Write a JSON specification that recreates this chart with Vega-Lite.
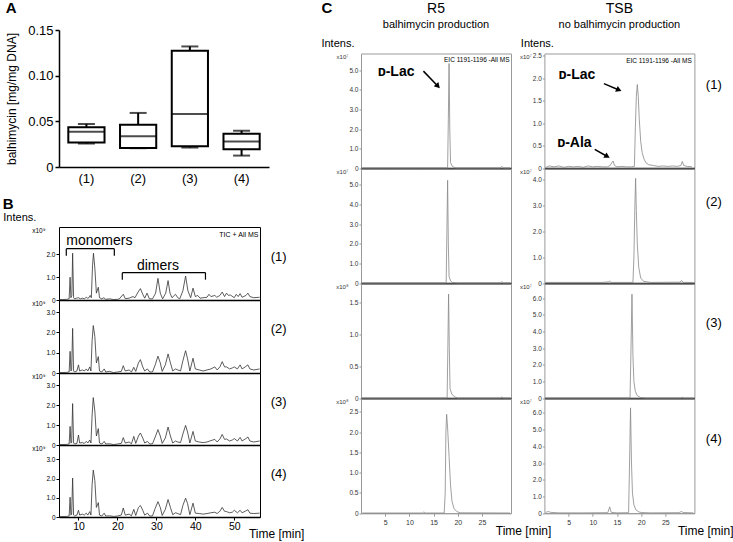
{
"$schema": "https://vega.github.io/schema/vega-lite/v6.json",
"padding": {"left": 2, "top": 1, "right": 2, "bottom": 0},
"config": {
 "font": "Liberation Sans",
 "axis": {"grid": false, "domainColor": "#000", "tickColor": "#000", "labelColor": "#000", "titleColor": "#000", "titleFontWeight": "normal", "labelFont": "Liberation Sans", "titleFont": "Liberation Sans"},
 "title": {"font": "Liberation Sans", "color": "#000", "subtitleFont": "Liberation Sans", "subtitleColor": "#000"},
 "text": {"font": "Liberation Sans", "color": "#000"},
 "view": {"stroke": null}
},
"datasets": {
 "box": [
  {"g":"(1)","lo":0.0257,"q1":0.0268,"med":0.0386,"q3":0.0434,"hi":0.0471},
  {"g":"(2)","lo":0.0206,"q1":0.0208,"med":0.0338,"q3":0.0463,"hi":0.0592},
  {"g":"(3)","lo":0.0213,"q1":0.0228,"med":0.0581,"q3":0.1273,"hi":0.132},
  {"g":"(4)","lo":0.0125,"q1":0.0195,"med":0.0279,"q3":0.0364,"hi":0.0397}
 ],
 "tic": [
  {"p":1,"t":5.2,"v":0.02},{"p":1,"t":6,"v":0.02},{"p":1,"t":7,"v":0.03},{"p":1,"t":7.6,"v":0.05},{"p":1,"t":7.85,"v":1.0},{"p":1,"t":8.05,"v":0.1},{"p":1,"t":8.3,"v":0.2},{"p":1,"t":8.5,"v":2.05},{"p":1,"t":8.75,"v":0.1},{"p":1,"t":9,"v":0.05},{"p":1,"t":9.5,"v":0.08},{"p":1,"t":10,"v":0.1},{"p":1,"t":10.5,"v":0.05},{"p":1,"t":11,"v":0.08},{"p":1,"t":11.5,"v":0.05},{"p":1,"t":12,"v":0.12},{"p":1,"t":12.3,"v":0.08},{"p":1,"t":12.7,"v":0.1},{"p":1,"t":13,"v":0.2},{"p":1,"t":13.3,"v":0.1},{"p":1,"t":13.6,"v":1.5},{"p":1,"t":13.85,"v":2.05},{"p":1,"t":14.2,"v":1.4},{"p":1,"t":14.6,"v":0.3},{"p":1,"t":15.1,"v":0.56},{"p":1,"t":15.4,"v":0.1},{"p":1,"t":16,"v":0.05},{"p":1,"t":16.5,"v":0.1},{"p":1,"t":17,"v":0.03},{"p":1,"t":18,"v":0.05},{"p":1,"t":19,"v":0.02},{"p":1,"t":20,"v":0.03},{"p":1,"t":20.5,"v":0.05},{"p":1,"t":21.5,"v":0.25},{"p":1,"t":22,"v":0.06},{"p":1,"t":23,"v":0.08},{"p":1,"t":24,"v":0.15},{"p":1,"t":24.5,"v":0.1},{"p":1,"t":25.3,"v":0.35},{"p":1,"t":25.9,"v":0.5},{"p":1,"t":26.5,"v":0.25},{"p":1,"t":27,"v":0.08},{"p":1,"t":27.6,"v":0.3},{"p":1,"t":28.2,"v":0.05},{"p":1,"t":29,"v":0.05},{"p":1,"t":29.8,"v":0.3},{"p":1,"t":30.4,"v":0.95},{"p":1,"t":31,"v":0.3},{"p":1,"t":31.6,"v":0.05},{"p":1,"t":32.4,"v":0.3},{"p":1,"t":33,"v":0.85},{"p":1,"t":33.5,"v":0.3},{"p":1,"t":34,"v":0.1},{"p":1,"t":34.9,"v":0.25},{"p":1,"t":35.5,"v":0.1},{"p":1,"t":36,"v":0.05},{"p":1,"t":36.8,"v":0.4},{"p":1,"t":37.5,"v":1.05},{"p":1,"t":38.1,"v":0.4},{"p":1,"t":38.8,"v":0.1},{"p":1,"t":39.4,"v":0.52},{"p":1,"t":40,"v":0.15},{"p":1,"t":40.6,"v":0.2},{"p":1,"t":41.2,"v":0.08},{"p":1,"t":42,"v":0.1},{"p":1,"t":43,"v":0.12},{"p":1,"t":43.5,"v":0.25},{"p":1,"t":44,"v":0.15},{"p":1,"t":45,"v":0.2},{"p":1,"t":45.5,"v":0.12},{"p":1,"t":46.3,"v":0.2},{"p":1,"t":46.9,"v":0.35},{"p":1,"t":47.5,"v":0.15},{"p":1,"t":48,"v":0.3},{"p":1,"t":48.5,"v":0.2},{"p":1,"t":49,"v":0.22},{"p":1,"t":50,"v":0.1},{"p":1,"t":50.5,"v":0.25},{"p":1,"t":51,"v":0.15},{"p":1,"t":51.5,"v":0.28},{"p":1,"t":52,"v":0.12},{"p":1,"t":53,"v":0.2},{"p":1,"t":53.5,"v":0.3},{"p":1,"t":54,"v":0.15},{"p":1,"t":55,"v":0.1},{"p":1,"t":56.5,"v":0.12},
  {"p":2,"t":5.2,"v":0.02},{"p":2,"t":7,"v":0.03},{"p":2,"t":7.6,"v":0.05},{"p":2,"t":7.85,"v":1.07},{"p":2,"t":8.05,"v":0.1},{"p":2,"t":8.25,"v":0.15},{"p":2,"t":8.5,"v":2.2},{"p":2,"t":8.75,"v":0.1},{"p":2,"t":9,"v":0.05},{"p":2,"t":9.6,"v":0.1},{"p":2,"t":10,"v":0.4},{"p":2,"t":10.3,"v":0.1},{"p":2,"t":11,"v":0.15},{"p":2,"t":11.5,"v":0.1},{"p":2,"t":12,"v":0.2},{"p":2,"t":12.4,"v":0.1},{"p":2,"t":12.9,"v":0.3},{"p":2,"t":13.2,"v":0.1},{"p":2,"t":13.5,"v":1.6},{"p":2,"t":13.8,"v":2.34},{"p":2,"t":14.2,"v":1.8},{"p":2,"t":14.6,"v":0.5},{"p":2,"t":15.1,"v":0.81},{"p":2,"t":15.4,"v":0.1},{"p":2,"t":16,"v":0.05},{"p":2,"t":16.6,"v":0.2},{"p":2,"t":17,"v":0.05},{"p":2,"t":18,"v":0.08},{"p":2,"t":19,"v":0.02},{"p":2,"t":20,"v":0.05},{"p":2,"t":21,"v":0.08},{"p":2,"t":21.5,"v":0.36},{"p":2,"t":22,"v":0.1},{"p":2,"t":23,"v":0.15},{"p":2,"t":23.6,"v":0.05},{"p":2,"t":24.2,"v":0.28},{"p":2,"t":24.7,"v":0.08},{"p":2,"t":25.4,"v":0.5},{"p":2,"t":25.9,"v":0.66},{"p":2,"t":26.5,"v":0.3},{"p":2,"t":27,"v":0.1},{"p":2,"t":27.7,"v":0.2},{"p":2,"t":28.3,"v":0.05},{"p":2,"t":29,"v":0.05},{"p":2,"t":29.7,"v":0.4},{"p":2,"t":30.4,"v":0.83},{"p":2,"t":31,"v":0.5},{"p":2,"t":31.5,"v":0.08},{"p":2,"t":32.3,"v":0.4},{"p":2,"t":33,"v":0.94},{"p":2,"t":33.6,"v":0.5},{"p":2,"t":34.2,"v":0.1},{"p":2,"t":34.9,"v":0.2},{"p":2,"t":35.5,"v":0.15},{"p":2,"t":36.2,"v":0.1},{"p":2,"t":36.8,"v":0.6},{"p":2,"t":37.5,"v":1.1},{"p":2,"t":38,"v":0.7},{"p":2,"t":38.6,"v":0.1},{"p":2,"t":39.4,"v":0.73},{"p":2,"t":40,"v":0.2},{"p":2,"t":41,"v":0.15},{"p":2,"t":42,"v":0.1},{"p":2,"t":43,"v":0.15},{"p":2,"t":44,"v":0.2},{"p":2,"t":45,"v":0.3},{"p":2,"t":45.6,"v":0.15},{"p":2,"t":46.3,"v":0.3},{"p":2,"t":46.9,"v":0.56},{"p":2,"t":47.5,"v":0.3},{"p":2,"t":48,"v":0.3},{"p":2,"t":48.8,"v":0.2},{"p":2,"t":49.5,"v":0.25},{"p":2,"t":50,"v":0.3},{"p":2,"t":50.8,"v":0.2},{"p":2,"t":51.5,"v":0.4},{"p":2,"t":52,"v":0.2},{"p":2,"t":52.8,"v":0.3},{"p":2,"t":53.5,"v":0.4},{"p":2,"t":54,"v":0.2},{"p":2,"t":55,"v":0.15},{"p":2,"t":56.5,"v":0.2},
  {"p":3,"t":5.2,"v":0.02},{"p":3,"t":7,"v":0.03},{"p":3,"t":7.6,"v":0.05},{"p":3,"t":7.85,"v":0.93},{"p":3,"t":8.05,"v":0.1},{"p":3,"t":8.25,"v":0.12},{"p":3,"t":8.5,"v":2.07},{"p":3,"t":8.75,"v":0.1},{"p":3,"t":9,"v":0.05},{"p":3,"t":9.6,"v":0.08},{"p":3,"t":10,"v":0.5},{"p":3,"t":10.3,"v":0.1},{"p":3,"t":11,"v":0.12},{"p":3,"t":11.5,"v":0.08},{"p":3,"t":12,"v":0.18},{"p":3,"t":12.4,"v":0.1},{"p":3,"t":12.9,"v":0.25},{"p":3,"t":13.2,"v":0.1},{"p":3,"t":13.5,"v":1.5},{"p":3,"t":13.8,"v":2.37},{"p":3,"t":14.2,"v":1.7},{"p":3,"t":14.6,"v":0.45},{"p":3,"t":15.1,"v":0.82},{"p":3,"t":15.4,"v":0.1},{"p":3,"t":16,"v":0.05},{"p":3,"t":16.6,"v":0.18},{"p":3,"t":17,"v":0.05},{"p":3,"t":18,"v":0.06},{"p":3,"t":19,"v":0.02},{"p":3,"t":20,"v":0.05},{"p":3,"t":21,"v":0.08},{"p":3,"t":21.5,"v":0.37},{"p":3,"t":22,"v":0.1},{"p":3,"t":23,"v":0.15},{"p":3,"t":23.6,"v":0.06},{"p":3,"t":24.2,"v":0.43},{"p":3,"t":24.7,"v":0.08},{"p":3,"t":25.4,"v":0.45},{"p":3,"t":25.9,"v":0.6},{"p":3,"t":26.5,"v":0.35},{"p":3,"t":27,"v":0.1},{"p":3,"t":27.7,"v":0.18},{"p":3,"t":28.3,"v":0.05},{"p":3,"t":29,"v":0.06},{"p":3,"t":29.7,"v":0.4},{"p":3,"t":30.4,"v":0.77},{"p":3,"t":31,"v":0.45},{"p":3,"t":31.5,"v":0.08},{"p":3,"t":32.3,"v":0.35},{"p":3,"t":33,"v":0.9},{"p":3,"t":33.6,"v":0.45},{"p":3,"t":34.2,"v":0.1},{"p":3,"t":34.9,"v":0.2},{"p":3,"t":35.5,"v":0.15},{"p":3,"t":36.2,"v":0.12},{"p":3,"t":36.8,"v":0.55},{"p":3,"t":37.5,"v":0.98},{"p":3,"t":38,"v":0.65},{"p":3,"t":38.6,"v":0.1},{"p":3,"t":39.4,"v":0.68},{"p":3,"t":40,"v":0.2},{"p":3,"t":41,"v":0.15},{"p":3,"t":42,"v":0.12},{"p":3,"t":43,"v":0.15},{"p":3,"t":44,"v":0.22},{"p":3,"t":45,"v":0.28},{"p":3,"t":45.6,"v":0.15},{"p":3,"t":46.3,"v":0.3},{"p":3,"t":46.9,"v":0.53},{"p":3,"t":47.5,"v":0.28},{"p":3,"t":48,"v":0.3},{"p":3,"t":48.8,"v":0.2},{"p":3,"t":49.5,"v":0.25},{"p":3,"t":50,"v":0.32},{"p":3,"t":50.8,"v":0.2},{"p":3,"t":51.5,"v":0.38},{"p":3,"t":52,"v":0.2},{"p":3,"t":52.8,"v":0.3},{"p":3,"t":53.5,"v":0.4},{"p":3,"t":54,"v":0.2},{"p":3,"t":55,"v":0.15},{"p":3,"t":56.5,"v":0.2},
  {"p":4,"t":5.2,"v":0.02},{"p":4,"t":7,"v":0.03},{"p":4,"t":7.6,"v":0.05},{"p":4,"t":7.85,"v":1.03},{"p":4,"t":8.05,"v":0.1},{"p":4,"t":8.25,"v":0.15},{"p":4,"t":8.5,"v":2.03},{"p":4,"t":8.75,"v":0.1},{"p":4,"t":9,"v":0.05},{"p":4,"t":9.6,"v":0.1},{"p":4,"t":10,"v":0.35},{"p":4,"t":10.3,"v":0.1},{"p":4,"t":11,"v":0.15},{"p":4,"t":11.5,"v":0.1},{"p":4,"t":12,"v":0.2},{"p":4,"t":12.4,"v":0.1},{"p":4,"t":12.9,"v":0.28},{"p":4,"t":13.2,"v":0.1},{"p":4,"t":13.5,"v":1.7},{"p":4,"t":13.8,"v":2.44},{"p":4,"t":14.2,"v":1.9},{"p":4,"t":14.6,"v":0.5},{"p":4,"t":15.1,"v":0.75},{"p":4,"t":15.4,"v":0.1},{"p":4,"t":16,"v":0.05},{"p":4,"t":16.6,"v":0.2},{"p":4,"t":17,"v":0.05},{"p":4,"t":18,"v":0.06},{"p":4,"t":19,"v":0.03},{"p":4,"t":20,"v":0.05},{"p":4,"t":21,"v":0.1},{"p":4,"t":21.5,"v":0.47},{"p":4,"t":22,"v":0.1},{"p":4,"t":23,"v":0.15},{"p":4,"t":23.6,"v":0.06},{"p":4,"t":24.2,"v":0.4},{"p":4,"t":24.7,"v":0.08},{"p":4,"t":25.4,"v":0.5},{"p":4,"t":25.9,"v":0.6},{"p":4,"t":26.5,"v":0.35},{"p":4,"t":27,"v":0.1},{"p":4,"t":27.7,"v":0.2},{"p":4,"t":28.3,"v":0.05},{"p":4,"t":29,"v":0.06},{"p":4,"t":29.7,"v":0.45},{"p":4,"t":30.4,"v":0.8},{"p":4,"t":31,"v":0.5},{"p":4,"t":31.5,"v":0.08},{"p":4,"t":32.3,"v":0.4},{"p":4,"t":33,"v":0.91},{"p":4,"t":33.6,"v":0.5},{"p":4,"t":34.2,"v":0.12},{"p":4,"t":34.9,"v":0.22},{"p":4,"t":35.5,"v":0.18},{"p":4,"t":36.2,"v":0.12},{"p":4,"t":36.8,"v":0.6},{"p":4,"t":37.5,"v":0.98},{"p":4,"t":38,"v":0.7},{"p":4,"t":38.6,"v":0.12},{"p":4,"t":39.4,"v":0.72},{"p":4,"t":40,"v":0.2},{"p":4,"t":41,"v":0.18},{"p":4,"t":42,"v":0.15},{"p":4,"t":43,"v":0.18},{"p":4,"t":44,"v":0.22},{"p":4,"t":45,"v":0.25},{"p":4,"t":45.6,"v":0.18},{"p":4,"t":46.3,"v":0.3},{"p":4,"t":46.9,"v":0.5},{"p":4,"t":47.5,"v":0.3},{"p":4,"t":48,"v":0.28},{"p":4,"t":48.8,"v":0.22},{"p":4,"t":49.5,"v":0.25},{"p":4,"t":50,"v":0.35},{"p":4,"t":50.8,"v":0.22},{"p":4,"t":51.5,"v":0.35},{"p":4,"t":52,"v":0.22},{"p":4,"t":52.8,"v":0.3},{"p":4,"t":53.5,"v":0.38},{"p":4,"t":54,"v":0.2},{"p":4,"t":55,"v":0.18},{"p":4,"t":56.5,"v":0.2}
 ],
 "eic": [
  {"p":"c1","t":0.3,"v":0.02},{"p":"c1","t":6,"v":0.02},{"p":"c1","t":12,"v":0.02},{"p":"c1","t":17.9,"v":0.02},{"p":"c1","t":18.05,"v":2.5},{"p":"c1","t":18.2,"v":5.35},{"p":"c1","t":18.35,"v":2.0},{"p":"c1","t":18.5,"v":0.3},{"p":"c1","t":18.8,"v":0.12},{"p":"c1","t":19.2,"v":0.05},{"p":"c1","t":19.6,"v":0.02},{"p":"c1","t":24,"v":0.02},{"p":"c1","t":28.8,"v":0.02},{"p":"c1","t":29.1,"v":0.1},{"p":"c1","t":29.4,"v":0.02},{"p":"c1","t":30.8,"v":0.02},
  {"p":"c2","t":0.3,"v":0.02},{"p":"c2","t":6,"v":0.02},{"p":"c2","t":12,"v":0.02},{"p":"c2","t":17.6,"v":0.02},{"p":"c2","t":17.75,"v":2.6},{"p":"c2","t":17.9,"v":5.24},{"p":"c2","t":18.05,"v":2.0},{"p":"c2","t":18.2,"v":0.35},{"p":"c2","t":18.5,"v":0.12},{"p":"c2","t":18.9,"v":0.04},{"p":"c2","t":20,"v":0.02},{"p":"c2","t":28.8,"v":0.02},{"p":"c2","t":29.1,"v":0.08},{"p":"c2","t":29.4,"v":0.02},{"p":"c2","t":30.8,"v":0.02},
  {"p":"c3","t":0.3,"v":0.005},{"p":"c3","t":10,"v":0.005},{"p":"c3","t":17.8,"v":0.005},{"p":"c3","t":17.95,"v":0.8},{"p":"c3","t":18.1,"v":1.64},{"p":"c3","t":18.25,"v":0.8},{"p":"c3","t":18.4,"v":0.15},{"p":"c3","t":18.8,"v":0.06},{"p":"c3","t":19.4,"v":0.02},{"p":"c3","t":20,"v":0.005},{"p":"c3","t":28.8,"v":0.005},{"p":"c3","t":29.1,"v":0.02},{"p":"c3","t":29.4,"v":0.005},{"p":"c3","t":30.8,"v":0.005},
  {"p":"c4","t":0.3,"v":0.005},{"p":"c4","t":12.7,"v":0.005},{"p":"c4","t":13,"v":0.03},{"p":"c4","t":13.3,"v":0.005},{"p":"c4","t":17.2,"v":0.005},{"p":"c4","t":17.4,"v":0.5},{"p":"c4","t":17.55,"v":2.0},{"p":"c4","t":17.7,"v":2.44},{"p":"c4","t":17.9,"v":2.1},{"p":"c4","t":18.2,"v":1.4},{"p":"c4","t":18.5,"v":0.7},{"p":"c4","t":18.8,"v":0.3},{"p":"c4","t":19.2,"v":0.12},{"p":"c4","t":19.8,"v":0.04},{"p":"c4","t":20.5,"v":0.01},{"p":"c4","t":30.8,"v":0.005},
  {"p":"t1","t":0.3,"v":0.02},{"p":"t1","t":1,"v":0.05},{"p":"t1","t":2,"v":0.03},{"p":"t1","t":3,"v":0.05},{"p":"t1","t":4,"v":0.02},{"p":"t1","t":5,"v":0.04},{"p":"t1","t":6,"v":0.03},{"p":"t1","t":7,"v":0.04},{"p":"t1","t":8,"v":0.02},{"p":"t1","t":9,"v":0.05},{"p":"t1","t":10,"v":0.03},{"p":"t1","t":11,"v":0.04},{"p":"t1","t":12,"v":0.03},{"p":"t1","t":13,"v":0.03},{"p":"t1","t":13.6,"v":0.06},{"p":"t1","t":13.9,"v":0.12},{"p":"t1","t":14.2,"v":0.16},{"p":"t1","t":14.5,"v":0.06},{"p":"t1","t":15,"v":0.03},{"p":"t1","t":16,"v":0.04},{"p":"t1","t":17,"v":0.03},{"p":"t1","t":18,"v":0.03},{"p":"t1","t":18.6,"v":0.04},{"p":"t1","t":18.8,"v":0.9},{"p":"t1","t":19.0,"v":1.6},{"p":"t1","t":19.2,"v":1.86},{"p":"t1","t":19.4,"v":1.6},{"p":"t1","t":19.6,"v":1.1},{"p":"t1","t":19.9,"v":0.6},{"p":"t1","t":20.2,"v":0.35},{"p":"t1","t":20.6,"v":0.2},{"p":"t1","t":21,"v":0.12},{"p":"t1","t":21.5,"v":0.08},{"p":"t1","t":22.5,"v":0.06},{"p":"t1","t":23.5,"v":0.04},{"p":"t1","t":24.5,"v":0.05},{"p":"t1","t":25.5,"v":0.04},{"p":"t1","t":26.5,"v":0.05},{"p":"t1","t":27.5,"v":0.04},{"p":"t1","t":28.2,"v":0.06},{"p":"t1","t":28.5,"v":0.15},{"p":"t1","t":28.8,"v":0.06},{"p":"t1","t":29.5,"v":0.04},{"p":"t1","t":30.5,"v":0.03},
  {"p":"t2","t":0.3,"v":0.03},{"p":"t2","t":6,"v":0.03},{"p":"t2","t":12,"v":0.03},{"p":"t2","t":13.2,"v":0.05},{"p":"t2","t":13.5,"v":0.08},{"p":"t2","t":13.8,"v":0.03},{"p":"t2","t":18.3,"v":0.03},{"p":"t2","t":18.5,"v":1.0},{"p":"t2","t":18.7,"v":3.0},{"p":"t2","t":18.85,"v":4.03},{"p":"t2","t":19.0,"v":2.8},{"p":"t2","t":19.2,"v":1.5},{"p":"t2","t":19.5,"v":0.6},{"p":"t2","t":19.9,"v":0.2},{"p":"t2","t":20.5,"v":0.07},{"p":"t2","t":22,"v":0.03},{"p":"t2","t":28,"v":0.04},{"p":"t2","t":28.4,"v":0.1},{"p":"t2","t":28.7,"v":0.03},{"p":"t2","t":30.8,"v":0.03},
  {"p":"t3","t":0.3,"v":0.02},{"p":"t3","t":8,"v":0.02},{"p":"t3","t":15,"v":0.02},{"p":"t3","t":17.7,"v":0.02},{"p":"t3","t":17.9,"v":3.0},{"p":"t3","t":18.1,"v":6.24},{"p":"t3","t":18.3,"v":2.5},{"p":"t3","t":18.5,"v":1.0},{"p":"t3","t":18.8,"v":0.4},{"p":"t3","t":19.2,"v":0.15},{"p":"t3","t":19.8,"v":0.05},{"p":"t3","t":21,"v":0.02},{"p":"t3","t":28.2,"v":0.02},{"p":"t3","t":28.5,"v":0.06},{"p":"t3","t":28.8,"v":0.02},{"p":"t3","t":30.8,"v":0.02},
  {"p":"t4","t":0.3,"v":0.05},{"p":"t4","t":0.8,"v":0.1},{"p":"t4","t":1.3,"v":0.05},{"p":"t4","t":3,"v":0.02},{"p":"t4","t":8,"v":0.02},{"p":"t4","t":13.1,"v":0.03},{"p":"t4","t":13.5,"v":0.38},{"p":"t4","t":13.8,"v":0.05},{"p":"t4","t":15,"v":0.02},{"p":"t4","t":17.4,"v":0.03},{"p":"t4","t":17.6,"v":3.0},{"p":"t4","t":17.8,"v":6.3},{"p":"t4","t":18.0,"v":3.0},{"p":"t4","t":18.2,"v":1.2},{"p":"t4","t":18.5,"v":0.5},{"p":"t4","t":18.9,"v":0.2},{"p":"t4","t":19.5,"v":0.08},{"p":"t4","t":20,"v":0.04},{"p":"t4","t":22,"v":0.02},{"p":"t4","t":27.8,"v":0.03},{"p":"t4","t":28.3,"v":0.1},{"p":"t4","t":28.7,"v":0.04},{"p":"t4","t":30.8,"v":0.02}
 ]
},
"hconcat": [
 {
  "vconcat": [
   {
    "title": {"text": "A", "anchor": "start", "frame": "bounds", "fontSize": 15, "fontWeight": "bold", "offset": 8},
    "width": 210, "height": 137,
    "data": {"name": "box"},
    "encoding": {"x": {"field": "g", "type": "nominal", "scale": {"paddingInner": 0, "paddingOuter": 0.03}, "axis": {"title": null, "labelAngle": 0, "labelFontSize": 13, "ticks": false, "domainWidth": 1.5, "labelPadding": 5}}},
    "layer": [
     {"mark": {"type": "rule", "color": "#000", "strokeWidth": 2}, "encoding": {"y": {"field": "lo", "type": "quantitative", "scale": {"domain": [0, 0.15], "nice": false}, "axis": {"values": [0, 0.05, 0.1, 0.15], "labelExpr": "datum.value == 0 ? '0' : format(datum.value, '.2f')", "title": "balhimycin [mg/mg DNA]", "titleFontSize": 12, "labelFontSize": 13, "tickSize": 4, "tickWidth": 1.5, "domainWidth": 1.5, "labelPadding": 2, "titlePadding": 9}}, "y2": {"field": "hi"}}},
     {"mark": {"type": "tick", "color": "#000", "size": 17, "thickness": 2}, "encoding": {"y": {"field": "lo", "type": "quantitative", "scale": {"domain": [0, 0.15], "nice": false}, "axis": {"values": [0, 0.05, 0.1, 0.15], "labelExpr": "datum.value == 0 ? '0' : format(datum.value, '.2f')", "title": "balhimycin [mg/mg DNA]", "titleFontSize": 12, "labelFontSize": 13, "tickSize": 4, "tickWidth": 1.5, "domainWidth": 1.5, "labelPadding": 2, "titlePadding": 9}}}},
     {"mark": {"type": "tick", "color": "#000", "size": 17, "thickness": 2}, "encoding": {"y": {"field": "hi", "type": "quantitative", "scale": {"domain": [0, 0.15], "nice": false}, "axis": {"values": [0, 0.05, 0.1, 0.15], "labelExpr": "datum.value == 0 ? '0' : format(datum.value, '.2f')", "title": "balhimycin [mg/mg DNA]", "titleFontSize": 12, "labelFontSize": 13, "tickSize": 4, "tickWidth": 1.5, "domainWidth": 1.5, "labelPadding": 2, "titlePadding": 9}}}},
     {"mark": {"type": "bar", "fill": "#fff", "stroke": "#000", "strokeWidth": 2, "width": {"band": 0.7}}, "encoding": {"y": {"field": "q1", "type": "quantitative", "scale": {"domain": [0, 0.15], "nice": false}, "axis": {"values": [0, 0.05, 0.1, 0.15], "labelExpr": "datum.value == 0 ? '0' : format(datum.value, '.2f')", "title": "balhimycin [mg/mg DNA]", "titleFontSize": 12, "labelFontSize": 13, "tickSize": 4, "tickWidth": 1.5, "domainWidth": 1.5, "labelPadding": 2, "titlePadding": 9}}, "y2": {"field": "q3"}}},
     {"mark": {"type": "tick", "color": "#000", "size": 37, "thickness": 2}, "encoding": {"y": {"field": "med", "type": "quantitative", "scale": {"domain": [0, 0.15], "nice": false}, "axis": {"values": [0, 0.05, 0.1, 0.15], "labelExpr": "datum.value == 0 ? '0' : format(datum.value, '.2f')", "title": "balhimycin [mg/mg DNA]", "titleFontSize": 12, "labelFontSize": 13, "tickSize": 4, "tickWidth": 1.5, "domainWidth": 1.5, "labelPadding": 2, "titlePadding": 9}}}}
    ]
   },
   {
    "title": {"text": "B", "anchor": "start", "frame": "bounds", "fontSize": 15, "fontWeight": "bold", "offset": -1},
    "vconcat": [
     {
      "width": 201, "height": 73,
      "view": {"stroke": "#000", "strokeWidth": 1},
      "encoding": {
       "x": {"field": "t", "type": "quantitative", "scale": {"domain": [5, 56.6], "nice": false, "zero": false}, "axis": {"labels": false, "ticks": false, "title": null, "domainWidth": 1.5}},
       "y": {"field": "v", "type": "quantitative", "scale": {"domain": [0, 3.2], "nice": false}, "axis": {"values": [0, 1, 2], "labelExpr": "datum.value == 0 ? '0' : format(datum.value, '.1f')", "domain": false, "tickSize": 3, "labelFontSize": 6.5, "labelPadding": 1, "title": "x10⁹", "titleFontSize": 6.5, "titleAngle": 0, "titleAlign": "right", "titleBaseline": "top", "titleAnchor": "end", "titlePadding": 1}}
      },
      "layer": [
       {"data": {"name": "tic"}, "transform": [{"filter": "datum.p == 1"}], "mark": {"type": "line", "color": "#333", "strokeWidth": 0.8}},
       {"data": {"values": [{"t": 6.87, "t2": 19.2, "v": 2.25, "v2": 2.25}, {"t": 6.87, "t2": 6.87, "v": 2.25, "v2": 1.94}, {"t": 19.2, "t2": 19.2, "v": 2.25, "v2": 1.94}, {"t": 21.25, "t2": 42.6, "v": 1.2, "v2": 1.2}, {"t": 21.25, "t2": 21.25, "v": 1.2, "v2": 0.89}, {"t": 42.6, "t2": 42.6, "v": 1.2, "v2": 0.89}]}, "mark": {"type": "rule", "color": "#000", "strokeWidth": 1.2}, "encoding": {"x2": {"field": "t2"}, "y2": {"field": "v2"}}},
       {"data": {"values": [{"t": 15.35, "v": 2.6, "s": "monomers"}, {"t": 30.4, "v": 1.5, "s": "dimers"}]}, "mark": {"type": "text", "fontSize": 14, "baseline": "middle"}, "encoding": {"text": {"field": "s"}}},
       {"data": {"values": [{"t": 56.2, "v": 2.86, "s": "TIC + All MS"}]}, "mark": {"type": "text", "fontSize": 7, "align": "right", "baseline": "middle"}, "encoding": {"text": {"field": "s"}}},
       {"data": {"values": [{"t": -9.3, "v": 3.6, "s": "Intens."}]}, "mark": {"type": "text", "fontSize": 11, "align": "left", "baseline": "middle"}, "encoding": {"text": {"field": "s"}}},
       {"data": {"values": [{"t": 61.4, "v": 1.9, "s": "(1)"}]}, "mark": {"type": "text", "fontSize": 13, "baseline": "middle"}, "encoding": {"text": {"field": "s"}}}
      ]
     },
     {
      "width": 201, "height": 73,
      "view": {"stroke": "#000", "strokeWidth": 1},
      "encoding": {
       "x": {"field": "t", "type": "quantitative", "scale": {"domain": [5, 56.6], "nice": false, "zero": false}, "axis": {"labels": false, "ticks": false, "title": null, "domainWidth": 1.5}},
       "y": {"field": "v", "type": "quantitative", "scale": {"domain": [0, 3.6], "nice": false}, "axis": {"values": [0, 1, 2, 3], "labelExpr": "datum.value == 0 ? '0' : format(datum.value, '.1f')", "domain": false, "tickSize": 3, "labelFontSize": 6.5, "labelPadding": 1, "title": "x10⁹", "titleFontSize": 6.5, "titleAngle": 0, "titleAlign": "right", "titleBaseline": "top", "titleAnchor": "end", "titlePadding": 1}}
      },
      "layer": [
       {"data": {"name": "tic"}, "transform": [{"filter": "datum.p == 2"}], "mark": {"type": "line", "color": "#333", "strokeWidth": 0.8}},
       {"data": {"values": [{"t": 61.4, "v": 2.18, "s": "(2)"}]}, "mark": {"type": "text", "fontSize": 13, "baseline": "middle"}, "encoding": {"text": {"field": "s"}}}
      ]
     },
     {
      "width": 201, "height": 72,
      "view": {"stroke": "#000", "strokeWidth": 1},
      "encoding": {
       "x": {"field": "t", "type": "quantitative", "scale": {"domain": [5, 56.6], "nice": false, "zero": false}, "axis": {"labels": false, "ticks": false, "title": null, "domainWidth": 1.5}},
       "y": {"field": "v", "type": "quantitative", "scale": {"domain": [0, 3.6], "nice": false}, "axis": {"values": [0, 1, 2, 3], "labelExpr": "datum.value == 0 ? '0' : format(datum.value, '.1f')", "domain": false, "tickSize": 3, "labelFontSize": 6.5, "labelPadding": 1, "title": "x10⁹", "titleFontSize": 6.5, "titleAngle": 0, "titleAlign": "right", "titleBaseline": "top", "titleAnchor": "end", "titlePadding": 1}}
      },
      "layer": [
       {"data": {"name": "tic"}, "transform": [{"filter": "datum.p == 3"}], "mark": {"type": "line", "color": "#333", "strokeWidth": 0.8}},
       {"data": {"values": [{"t": 61.4, "v": 2.17, "s": "(3)"}]}, "mark": {"type": "text", "fontSize": 13, "baseline": "middle"}, "encoding": {"text": {"field": "s"}}}
      ]
     },
     {
      "width": 201, "height": 72,
      "view": {"stroke": "#000", "strokeWidth": 1},
      "encoding": {
       "x": {"field": "t", "type": "quantitative", "scale": {"domain": [5, 56.6], "nice": false, "zero": false}, "axis": {"values": [10, 20, 30, 40, 50], "labelFontSize": 10.5, "tickSize": 3, "labelPadding": 1, "title": null, "domainWidth": 1.5}},
       "y": {"field": "v", "type": "quantitative", "scale": {"domain": [0, 3.75], "nice": false}, "axis": {"values": [0, 1, 2, 3], "labelExpr": "datum.value == 0 ? '0' : format(datum.value, '.1f')", "domain": false, "tickSize": 3, "labelFontSize": 6.5, "labelPadding": 1, "title": "x10⁹", "titleFontSize": 6.5, "titleAngle": 0, "titleAlign": "right", "titleBaseline": "top", "titleAnchor": "end", "titlePadding": 1}}
      },
      "layer": [
       {"data": {"name": "tic"}, "transform": [{"filter": "datum.p == 4"}], "mark": {"type": "line", "color": "#333", "strokeWidth": 0.8}},
       {"data": {"values": [{"t": 61.4, "v": 2.26, "s": "(4)"}]}, "mark": {"type": "text", "fontSize": 13, "baseline": "middle"}, "encoding": {"text": {"field": "s"}}},
       {"data": {"values": [{"t": 53.75, "v": -0.88, "s": "Time [min]"}]}, "mark": {"type": "text", "fontSize": 12, "align": "left", "baseline": "middle"}, "encoding": {"text": {"field": "s"}}}
      ]
     }
    ],
    "spacing": 0, "bounds": "flush"
   }
  ],
  "spacing": 12, "bounds": "full"
 },
 {
  "title": {"text": "C", "anchor": "start", "frame": "bounds", "fontSize": 15, "fontWeight": "bold", "offset": -14},
  "bounds": "full",
  "spacing": 1.5,
  "vconcat": [
   {
    "hconcat": [
     {
      "title": {"text": "R5", "subtitle": "balhimycin production", "anchor": "middle", "frame": "group", "fontSize": 14, "fontWeight": "normal", "subtitleFontSize": 11, "subtitlePadding": 3, "offset": 0},
      "width": 150, "height": 20,
      "data": {"values": [{"t": -8.18, "v": 0.315, "s": "Intens."}]},
      "mark": {"type": "text", "fontSize": 11, "align": "left", "baseline": "middle"},
      "encoding": {"x": {"field": "t", "type": "quantitative", "scale": {"domain": [0, 31], "nice": false, "zero": false}, "axis": null}, "y": {"field": "v", "type": "quantitative", "scale": {"domain": [0, 1], "nice": false}, "axis": null}, "text": {"field": "s"}}
     },
     {
      "title": {"text": "TSB", "subtitle": "no balhimycin production", "anchor": "middle", "frame": "group", "fontSize": 14, "fontWeight": "normal", "subtitleFontSize": 11, "subtitlePadding": 3, "offset": 0},
      "width": 150, "height": 20,
      "data": {"values": [{"t": -4.87, "v": 0.315, "s": "Intens."}]},
      "mark": {"type": "text", "fontSize": 11, "align": "left", "baseline": "middle"},
      "encoding": {"x": {"field": "t", "type": "quantitative", "scale": {"domain": [0, 31], "nice": false, "zero": false}, "axis": null}, "y": {"field": "v", "type": "quantitative", "scale": {"domain": [0, 1], "nice": false}, "axis": null}, "text": {"field": "s"}}
     }
    ],
    "spacing": 33.4, "bounds": "flush"
   },
   {
    "columns": 2,
    "spacing": {"row": 0, "column": 33.4},
    "bounds": "flush",
    "concat": [
     {
      "width": 150, "height": 114.7,
      "view": {"stroke": "#999", "strokeWidth": 1},
      "encoding": {
       "x": {"field": "t", "type": "quantitative", "scale": {"domain": [0, 31], "nice": false, "zero": false}, "axis": {"labels": false, "ticks": false, "title": null, "domainWidth": 1.8}},
       "y": {"field": "v", "type": "quantitative", "scale": {"domain": [0, 5.86], "nice": false}, "axis": {"values": [0, 1, 2, 3, 4, 5], "labelExpr": "datum.value == 0 ? '0' : format(datum.value, '.1f')", "domain": false, "tickSize": 2, "tickColor": "#999", "labelFontSize": 6.5, "labelColor": "#333", "labelPadding": 1, "title": "x10⁷", "titleFontSize": 6, "titleColor": "#333", "titleAngle": 0, "titleAlign": "right", "titleBaseline": "top", "titleAnchor": "end", "titlePadding": 1}}
      },
      "layer": [
       {"data": {"name": "eic"}, "transform": [{"filter": "datum.p == 'c1'"}], "mark": {"type": "line", "color": "#888", "strokeWidth": 0.8}},
       {"data": {"values": [{"t": 30.7, "v": 5.52, "s": "EIC 1191-1196 -All MS"}]}, "mark": {"type": "text", "fontSize": 6.5, "align": "right", "baseline": "middle"}, "encoding": {"text": {"field": "s"}}},
       {"data": {"values": [{"t": 7.25, "v": 4.91, "s": "ᴅ-Lac"}]}, "mark": {"type": "text", "fontSize": 14, "fontWeight": "bold", "baseline": "middle"}, "encoding": {"text": {"field": "s"}}},
       {"data": {"values": [{"t": 12.9, "t2": 15.9, "v": 4.96, "v2": 4.19}]}, "mark": {"type": "rule", "color": "#000", "strokeWidth": 1.5}, "encoding": {"x2": {"field": "t2"}, "y2": {"field": "v2"}}},
       {"data": {"values": [{"t": 15.9, "v": 4.19}]}, "mark": {"type": "point", "shape": "triangle-right", "angle": 47, "size": 40, "filled": true, "color": "#000", "opacity": 1}}
      ]
     },
     {
      "width": 150, "height": 114.7,
      "view": {"stroke": "#999", "strokeWidth": 1},
      "encoding": {
       "x": {"field": "t", "type": "quantitative", "scale": {"domain": [0, 31], "nice": false, "zero": false}, "axis": {"labels": false, "ticks": false, "title": null, "domainWidth": 1.8}},
       "y": {"field": "v", "type": "quantitative", "scale": {"domain": [0, 2.55], "nice": false}, "axis": {"values": [0, 0.5, 1, 1.5, 2, 2.5], "labelExpr": "datum.value == 0 ? '0' : format(datum.value, '.1f')", "domain": false, "tickSize": 2, "tickColor": "#999", "labelFontSize": 6.5, "labelColor": "#333", "labelPadding": 1, "title": "x10⁷", "titleFontSize": 6, "titleColor": "#333", "titleAngle": 0, "titleAlign": "right", "titleBaseline": "top", "titleAnchor": "end", "titlePadding": 1}}
      },
      "layer": [
       {"data": {"name": "eic"}, "transform": [{"filter": "datum.p == 't1'"}], "mark": {"type": "line", "color": "#888", "strokeWidth": 0.8}},
       {"data": {"values": [{"t": 30.45, "v": 2.38, "s": "EIC 1191-1196 -All MS"}]}, "mark": {"type": "text", "fontSize": 6.5, "align": "right", "baseline": "middle"}, "encoding": {"text": {"field": "s"}}},
       {"data": {"values": [{"t": 6.73, "v": 2.07, "s": "ᴅ-Lac"}, {"t": 6.2, "v": 0.57, "s": "ᴅ-Ala"}]}, "mark": {"type": "text", "fontSize": 14, "fontWeight": "bold", "baseline": "middle"}, "encoding": {"text": {"field": "s"}}},
       {"data": {"values": [{"t": 12.3, "t2": 15.4, "v": 1.88, "v2": 1.74}, {"t": 10.4, "t2": 13.0, "v": 0.42, "v2": 0.26}]}, "mark": {"type": "rule", "color": "#000", "strokeWidth": 1.5}, "encoding": {"x2": {"field": "t2"}, "y2": {"field": "v2"}}},
       {"data": {"values": [{"t": 15.4, "v": 1.74}]}, "mark": {"type": "point", "shape": "triangle-right", "angle": 24, "size": 40, "filled": true, "color": "#000", "opacity": 1}},
       {"data": {"values": [{"t": 13.0, "v": 0.26}]}, "mark": {"type": "point", "shape": "triangle-right", "angle": 30, "size": 40, "filled": true, "color": "#000", "opacity": 1}},
       {"data": {"values": [{"t": 35, "v": 1.85, "s": "(1)"}]}, "mark": {"type": "text", "fontSize": 13, "baseline": "middle"}, "encoding": {"text": {"field": "s"}}}
      ]
     },
     {
      "width": 150, "height": 114.7,
      "view": {"stroke": "#999", "strokeWidth": 1},
      "encoding": {
       "x": {"field": "t", "type": "quantitative", "scale": {"domain": [0, 31], "nice": false, "zero": false}, "axis": {"labels": false, "ticks": false, "title": null, "domainWidth": 1.8}},
       "y": {"field": "v", "type": "quantitative", "scale": {"domain": [0, 5.84], "nice": false}, "axis": {"values": [0, 1, 2, 3, 4, 5], "labelExpr": "datum.value == 0 ? '0' : format(datum.value, '.1f')", "domain": false, "tickSize": 2, "tickColor": "#999", "labelFontSize": 6.5, "labelColor": "#333", "labelPadding": 1, "title": "x10⁷", "titleFontSize": 6, "titleColor": "#333", "titleAngle": 0, "titleAlign": "right", "titleBaseline": "top", "titleAnchor": "end", "titlePadding": 1}}
      },
      "layer": [
       {"data": {"name": "eic"}, "transform": [{"filter": "datum.p == 'c2'"}], "mark": {"type": "line", "color": "#888", "strokeWidth": 0.8}}
      ]
     },
     {
      "width": 150, "height": 114.7,
      "view": {"stroke": "#999", "strokeWidth": 1},
      "encoding": {
       "x": {"field": "t", "type": "quantitative", "scale": {"domain": [0, 31], "nice": false, "zero": false}, "axis": {"labels": false, "ticks": false, "title": null, "domainWidth": 1.8}},
       "y": {"field": "v", "type": "quantitative", "scale": {"domain": [0, 4.41], "nice": false}, "axis": {"values": [0, 1, 2, 3, 4], "labelExpr": "datum.value == 0 ? '0' : format(datum.value, '.1f')", "domain": false, "tickSize": 2, "tickColor": "#999", "labelFontSize": 6.5, "labelColor": "#333", "labelPadding": 1, "title": "x10⁷", "titleFontSize": 6, "titleColor": "#333", "titleAngle": 0, "titleAlign": "right", "titleBaseline": "top", "titleAnchor": "end", "titlePadding": 1}}
      },
      "layer": [
       {"data": {"name": "eic"}, "transform": [{"filter": "datum.p == 't2'"}], "mark": {"type": "line", "color": "#888", "strokeWidth": 0.8}},
       {"data": {"values": [{"t": 35, "v": 3.14, "s": "(2)"}]}, "mark": {"type": "text", "fontSize": 13, "baseline": "middle"}, "encoding": {"text": {"field": "s"}}}
      ]
     },
     {
      "width": 150, "height": 114.7,
      "view": {"stroke": "#999", "strokeWidth": 1},
      "encoding": {
       "x": {"field": "t", "type": "quantitative", "scale": {"domain": [0, 31], "nice": false, "zero": false}, "axis": {"labels": false, "ticks": false, "title": null, "domainWidth": 1.8}},
       "y": {"field": "v", "type": "quantitative", "scale": {"domain": [0, 1.806], "nice": false}, "axis": {"values": [0, 0.5, 1, 1.5], "labelExpr": "datum.value == 0 ? '0' : format(datum.value, '.1f')", "domain": false, "tickSize": 2, "tickColor": "#999", "labelFontSize": 6.5, "labelColor": "#333", "labelPadding": 1, "title": "x10⁸", "titleFontSize": 6, "titleColor": "#333", "titleAngle": 0, "titleAlign": "right", "titleBaseline": "top", "titleAnchor": "end", "titlePadding": 1}}
      },
      "layer": [
       {"data": {"name": "eic"}, "transform": [{"filter": "datum.p == 'c3'"}], "mark": {"type": "line", "color": "#888", "strokeWidth": 0.8}}
      ]
     },
     {
      "width": 150, "height": 114.7,
      "view": {"stroke": "#999", "strokeWidth": 1},
      "encoding": {
       "x": {"field": "t", "type": "quantitative", "scale": {"domain": [0, 31], "nice": false, "zero": false}, "axis": {"labels": false, "ticks": false, "title": null, "domainWidth": 1.8}},
       "y": {"field": "v", "type": "quantitative", "scale": {"domain": [0, 6.88], "nice": false}, "axis": {"values": [0, 1, 2, 3, 4, 5, 6], "labelExpr": "datum.value == 0 ? '0' : format(datum.value, '.1f')", "domain": false, "tickSize": 2, "tickColor": "#999", "labelFontSize": 6.5, "labelColor": "#333", "labelPadding": 1, "title": "x10⁷", "titleFontSize": 6, "titleColor": "#333", "titleAngle": 0, "titleAlign": "right", "titleBaseline": "top", "titleAnchor": "end", "titlePadding": 1}}
      },
      "layer": [
       {"data": {"name": "eic"}, "transform": [{"filter": "datum.p == 't3'"}], "mark": {"type": "line", "color": "#888", "strokeWidth": 0.8}},
       {"data": {"values": [{"t": 35, "v": 4.49, "s": "(3)"}]}, "mark": {"type": "text", "fontSize": 13, "baseline": "middle"}, "encoding": {"text": {"field": "s"}}}
      ]
     },
     {
      "width": 150, "height": 114.7,
      "view": {"stroke": "#999", "strokeWidth": 1},
      "encoding": {
       "x": {"field": "t", "type": "quantitative", "scale": {"domain": [0, 31], "nice": false, "zero": false}, "axis": {"values": [5, 10, 15, 20, 25], "labelFontSize": 7, "labelColor": "#333", "tickSize": 3, "tickColor": "#999", "domainColor": "#999", "labelPadding": 2, "title": null}},
       "y": {"field": "v", "type": "quantitative", "scale": {"domain": [0, 2.83], "nice": false}, "axis": {"values": [0, 0.5, 1, 1.5, 2, 2.5], "labelExpr": "datum.value == 0 ? '0' : format(datum.value, '.1f')", "domain": false, "tickSize": 2, "tickColor": "#999", "labelFontSize": 6.5, "labelColor": "#333", "labelPadding": 1, "title": "x10⁸", "titleFontSize": 6, "titleColor": "#333", "titleAngle": 0, "titleAlign": "right", "titleBaseline": "top", "titleAnchor": "end", "titlePadding": 1}}
      },
      "layer": [
       {"data": {"name": "eic"}, "transform": [{"filter": "datum.p == 'c4'"}], "mark": {"type": "line", "color": "#888", "strokeWidth": 0.8}},
       {"data": {"values": [{"t": 27.85, "v": -0.44, "s": "Time [min]"}]}, "mark": {"type": "text", "fontSize": 12, "align": "left", "baseline": "middle"}, "encoding": {"text": {"field": "s"}}}
      ]
     },
     {
      "width": 150, "height": 114.7,
      "view": {"stroke": "#999", "strokeWidth": 1},
      "encoding": {
       "x": {"field": "t", "type": "quantitative", "scale": {"domain": [0, 31], "nice": false, "zero": false}, "axis": {"values": [5, 10, 15, 20, 25], "labelFontSize": 7, "labelColor": "#333", "tickSize": 3, "tickColor": "#999", "domainColor": "#999", "labelPadding": 2, "title": null}},
       "y": {"field": "v", "type": "quantitative", "scale": {"domain": [0, 6.86], "nice": false}, "axis": {"values": [0, 1, 2, 3, 4, 5, 6], "labelExpr": "datum.value == 0 ? '0' : format(datum.value, '.1f')", "domain": false, "tickSize": 2, "tickColor": "#999", "labelFontSize": 6.5, "labelColor": "#333", "labelPadding": 1, "title": "x10⁷", "titleFontSize": 6, "titleColor": "#333", "titleAngle": 0, "titleAlign": "right", "titleBaseline": "top", "titleAnchor": "end", "titlePadding": 1}}
      },
      "layer": [
       {"data": {"name": "eic"}, "transform": [{"filter": "datum.p == 't4'"}], "mark": {"type": "line", "color": "#888", "strokeWidth": 0.8}},
       {"data": {"values": [{"t": 35, "v": 4.41, "s": "(4)"}]}, "mark": {"type": "text", "fontSize": 13, "baseline": "middle"}, "encoding": {"text": {"field": "s"}}},
       {"data": {"values": [{"t": 27.6, "v": -1.06, "s": "Time [min]"}]}, "mark": {"type": "text", "fontSize": 12, "align": "left", "baseline": "middle"}, "encoding": {"text": {"field": "s"}}}
      ]
     }
    ]
   }
  ]
 }
],
"spacing": 16,
"bounds": "full"
}
